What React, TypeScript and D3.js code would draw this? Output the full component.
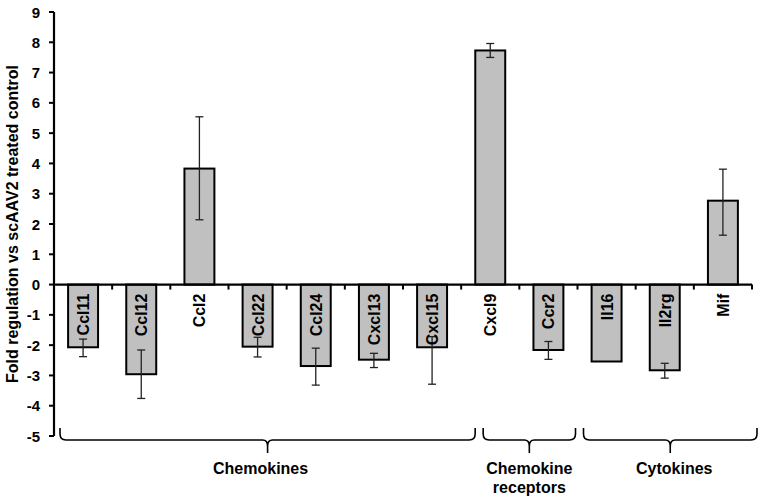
import React from "react";
import * as d3 from "d3";

const categories = ["Ccl11", "Ccl12", "Ccl2", "Ccl22", "Ccl24", "Cxcl13", "Cxcl15", "Cxcl9", "Ccr2", "Il16", "Il2rg", "Mif"];
const values = [-2.07, -2.96, 3.83, -2.05, -2.69, -2.48, -2.07, 7.73, -2.16, -2.54, -2.83, 2.77];
const errHigh: (number | null)[] = [-1.8, -2.16, 5.54, -1.74, -2.1, -2.27, -1.72, 7.96, -1.88, null, -2.6, 3.81];
const errLow: (number | null)[] = [-2.38, -3.76, 2.14, -2.39, -3.32, -2.74, -3.29, 7.5, -2.47, null, -3.09, 1.63];
const yTicks = [-5, -4, -3, -2, -1, 0, 1, 2, 3, 4, 5, 6, 7, 8, 9];
const groupLabels = [["Chemokines"], ["Chemokine", "receptors"], ["Cytokines"]];
const groupRanges = [[0, 6], [7, 8], [9, 11]];
const yTitle = "Fold regulation vs scAAV2 treated control";

// layout
const W = 764, H = 502;
const X0 = 54, X1 = 752, Y_TOP = 12, Y_BOT = 436;
const bracketOffsets = [[6, 14], [22, -2], [6, 5]];
const labelDx = [-7, 0, 4];
const FONT = "'Liberation Sans', Arial, sans-serif";

export default function App() {
  const x = d3.scaleBand<string>().domain(categories).range([X0, X1]).paddingInner(0.485).paddingOuter(0.2425);
  const y = d3.scaleLinear().domain([-5, 9]).range([Y_BOT, Y_TOP]);
  const step = x.step();
  const y0 = y(0);
  const bw = x.bandwidth();

  const bracketPath = (a: number, b: number, yTop: number, yLine: number, yTip: number) => {
    const c = (a + b) / 2;
    const r = 6;
    return `M${a},${yTop} L${a},${yLine - r} Q${a},${yLine} ${a + r},${yLine} L${c - 5},${yLine} Q${c},${yLine} ${c},${yLine + 6} L${c},${yTip} M${c},${yLine + 6} Q${c},${yLine} ${c + 5},${yLine} L${b - r},${yLine} Q${b},${yLine} ${b},${yLine - r} L${b},${yTop}`;
  };

  return (
    <svg width={W} height={H} style={{ position: "absolute", left: 0, top: 0, background: "#fff" }} fontFamily={FONT}>
      {/* y axis title */}
      <text transform={`translate(18,${(Y_TOP + Y_BOT) / 2}) rotate(-90)`} textAnchor="middle" fontSize={16} fontWeight="bold">
        {yTitle}
      </text>
      {/* y ticks */}
      {yTicks.map((t) => (
        <g key={t}>
          <line x1={X0 - 5} x2={X0} y1={y(t)} y2={y(t)} stroke="#000" strokeWidth={2} />
          <text x={40} y={y(t)} textAnchor="end" dominantBaseline="central" fontSize={15} fontWeight="bold">
            {t}
          </text>
        </g>
      ))}
      {/* bars */}
      {categories.map((c, i) => {
        const v = values[i];
        const top = Math.min(y(v), y0);
        const h = Math.abs(y(v) - y0);
        return <rect key={c} x={x(c)} y={top} width={bw} height={h} fill="#c0c0c0" stroke="#000" strokeWidth={2} />;
      })}
      {/* error bars */}
      {categories.map((c, i) => {
        const hi = errHigh[i];
        const lo = errLow[i];
        if (hi == null || lo == null) return null;
        const cx = (x(c) as number) + bw / 2;
        return (
          <g key={c} stroke="#222" strokeWidth={1.3}>
            <line x1={cx} x2={cx} y1={y(hi)} y2={y(lo)} />
            <line x1={cx - 4} x2={cx + 4} y1={y(hi)} y2={y(hi)} />
            <line x1={cx - 4} x2={cx + 4} y1={y(lo)} y2={y(lo)} />
          </g>
        );
      })}
      {/* y axis line */}
      <line x1={X0} x2={X0} y1={Y_TOP} y2={Y_BOT} stroke="#000" strokeWidth={2.2} />
      {/* x axis (zero line) */}
      <line x1={X0} x2={X1} y1={y0} y2={y0} stroke="#000" strokeWidth={2.2} />
      {categories.map((c, i) => (
        <line key={c} x1={X0 + step * (i + 1)} x2={X0 + step * (i + 1)} y1={y0} y2={y0 + 5} stroke="#000" strokeWidth={2} />
      ))}
      {/* category labels */}
      {categories.map((c) => {
        const cx = (x(c) as number) + bw / 2;
        return (
          <text key={c} transform={`translate(${cx + 6},${y0 + 9}) rotate(-90)`} textAnchor="end" fontSize={16} fontWeight="bold">
            {c}
          </text>
        );
      })}
      {/* group brackets */}
      {groupRanges.map(([s, e], gi) => {
        const a = X0 + step * s + bracketOffsets[gi][0];
        const b = X0 + step * (e + 1) + bracketOffsets[gi][1];
        const cx = (a + b) / 2 + labelDx[gi];
        return (
          <g key={gi}>
            <path d={bracketPath(a, b, 428, 440, 453)} fill="none" stroke="#000" strokeWidth={1.6} />
            {groupLabels[gi].map((ln, li) => (
              <text key={li} x={cx} y={474 + li * 19} textAnchor="middle" fontSize={16} fontWeight="bold">
                {ln}
              </text>
            ))}
          </g>
        );
      })}
    </svg>
  );
}
